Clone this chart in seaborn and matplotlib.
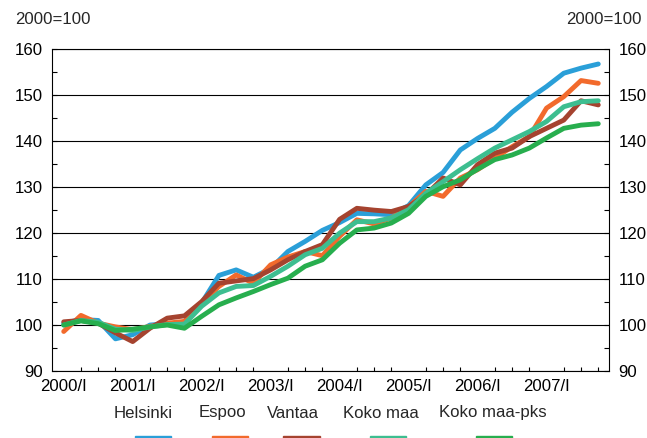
import matplotlib
matplotlib.use("Agg")
import matplotlib.pyplot as plt
from matplotlib.patches import Rectangle
from matplotlib.ticker import MultipleLocator
import numpy as np
import pandas as pd
import seaborn as sns

quarters = [f"{y}/{q}" for y in range(2000, 2008) for q in ["I", "II", "III", "IV"]]

helsinki = [100.4, 101.2, 101.0, 97.0, 97.9, 100.0, 100.3, 100.4,
            104.8, 110.8, 112.0, 110.4, 112.3, 116.0, 118.2, 120.6,
            122.3, 124.3, 124.2, 124.0, 126.0, 130.5, 133.2, 138.1,
            140.6, 142.8, 146.3, 149.3, 151.9, 154.8, 155.9, 156.8]
espoo = [98.6, 102.1, 100.4, 99.6, 99.0, 99.7, 100.4, 100.8,
         104.8, 108.4, 110.9, 109.1, 113.1, 114.8, 116.0, 115.1,
         119.3, 122.9, 122.0, 123.3, 125.7, 129.1, 128.0, 132.0,
         133.8, 136.3, 138.8, 141.0, 147.2, 149.7, 153.2, 152.6]
vantaa = [100.7, 101.0, 100.4, 98.3, 96.4, 99.3, 101.5, 102.0,
          105.1, 109.1, 109.6, 110.1, 112.0, 114.2, 116.0, 117.5,
          123.0, 125.4, 125.0, 124.7, 125.8, 128.3, 132.0, 130.5,
          134.9, 137.4, 138.5, 141.0, 142.8, 144.6, 148.8, 147.9]
koko_maa = [100.0, 101.0, 100.6, 99.1, 98.8, 99.6, 100.1, 100.2,
            104.1, 107.0, 108.4, 108.6, 110.6, 112.8, 115.3, 116.7,
            120.0, 122.5, 122.5, 123.3, 125.1, 128.7, 131.2, 133.8,
            136.2, 138.5, 140.3, 142.1, 144.3, 147.5, 148.6, 148.8]
koko_maa_pks = [100.0, 100.9, 100.3, 98.8, 99.1, 99.6, 100.0, 99.3,
                101.9, 104.4, 105.9, 107.3, 108.8, 110.2, 112.8, 114.2,
                117.8, 120.7, 121.1, 122.2, 124.3, 128.0, 130.1, 131.6,
                133.9, 136.0, 137.0, 138.5, 140.7, 142.8, 143.5, 143.8]

series = {
    "Helsinki": helsinki,
    "Espoo": espoo,
    "Vantaa": vantaa,
    "Koko maa": koko_maa,
    "Koko maa-pks": koko_maa_pks,
}

palette = {
    "Helsinki": "#2a9fd8",
    "Espoo": "#f26a2c",
    "Vantaa": "#a5432f",
    "Koko maa": "#3dbe90",
    "Koko maa-pks": "#27ae4e",
}

rows = []
for name, vals in series.items():
    for i, v in enumerate(vals):
        rows.append({"t": i, "quarter": quarters[i], "index": v, "series": name})
df = pd.DataFrame(rows)

FS = 12.1

sns.set_theme(style="white")
plt.rcParams["font.family"] = ["Liberation Sans", "DejaVu Sans"]
plt.rcParams["font.size"] = FS

fig = plt.figure(figsize=(6.47, 4.38), dpi=100)
ax = fig.add_axes([52 / 647, 1 - 371 / 438, (609.3 - 52) / 647, (371 - 49.3) / 438])

sns.lineplot(data=df, x="t", y="index", hue="series", palette=palette,
             estimator=None, sort=False, linewidth=3.5, legend=False, ax=ax,
             zorder=3)
for line in ax.lines:
    line.set_solid_joinstyle("round")

ax.set_xlim(-0.68, len(quarters) - 1 + 0.64)
ax.set_ylim(90, 160)
ax.set_xticks(np.arange(0, len(quarters), 4))
ax.set_xticklabels(quarters[::4])
ax.xaxis.set_minor_locator(MultipleLocator(1))
ax.yaxis.set_major_locator(MultipleLocator(10))
ax.yaxis.set_minor_locator(MultipleLocator(5))
ax.set_xlabel("")
ax.set_ylabel("")

ax.grid(False)
ax.yaxis.grid(True, which="major", color="black", linewidth=0.8, zorder=1)
ax.set_axisbelow(True)

for sp in ax.spines.values():
    sp.set_visible(True)
    sp.set_color("black")
    sp.set_linewidth(0.8)

ax.tick_params(axis="x", which="major", direction="in", length=5.5, width=0.8,
               color="black", pad=6, labelsize=FS, labelcolor="black")
ax.tick_params(axis="x", which="minor", direction="in", length=3, width=0.8,
               color="black", bottom=True)
ax.tick_params(axis="y", which="both", direction="in", left=True, right=True,
               labelleft=True, labelright=True, width=0.8, color="black",
               labelsize=FS, labelcolor="black")
ax.tick_params(axis="y", which="major", length=3.6, pad=6.5)
ax.tick_params(axis="y", which="minor", length=3.6)

fig.text(15 / 647, 1 - 20 / 438, "2000=100", ha="left", va="center", fontsize=FS)
fig.text(642 / 647, 1 - 20 / 438, "2000=100", ha="right", va="center", fontsize=FS)

# legend: names above short colour bars
label_x = [143, 222, 293, 381, 493]
bar_x = [(135, 171), (212, 248), (283, 320), (370, 406), (476, 512)]
for name, lx, (x0, x1) in zip(series, label_x, bar_x):
    fig.text(lx / 647, 1 - 413 / 438, name, ha="center", va="center", fontsize=FS)
    fig.patches.append(Rectangle((x0 / 647, 0), (x1 - x0) / 647, 2.2 / 438,
                                 transform=fig.transFigure, color=palette[name]))

fig.savefig("out.png", dpi=100)
